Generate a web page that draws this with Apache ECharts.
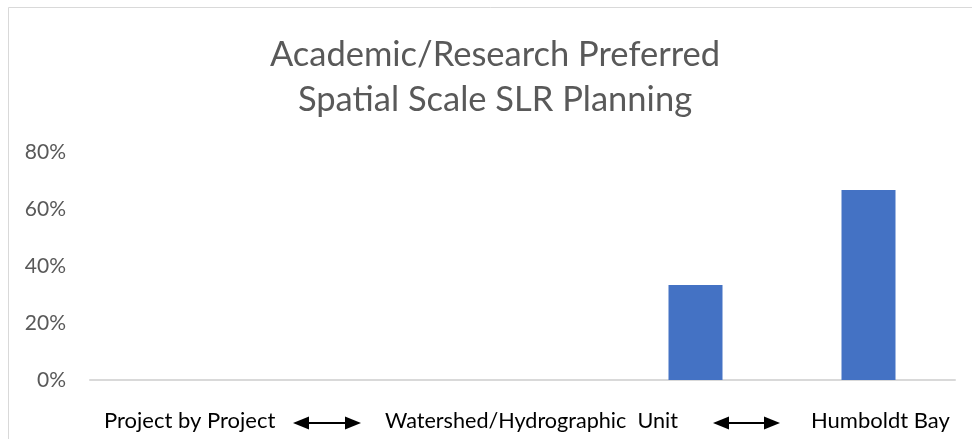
<!DOCTYPE html>
<html>
<head>
<meta charset="utf-8">
<script src="https://cdn.jsdelivr.net/npm/echarts@6/dist/echarts.min.js"></script>
<style>html,body{margin:0;padding:0;background:#fff}#c{width:972px;height:439px}</style>
</head>
<body>
<div id="c"></div>
<script>
const titleLines = ['Academic/Research Preferred', 'Spatial Scale SLR Planning'];
const categories = ['1', '2', '3', '4', '5'];
const values = [0, 0, 0, 33.3, 66.7];
const yTicks = [0, 20, 40, 60, 80];
const scaleLabels = ['Project by Project', 'Watershed/Hydrographic  Unit', 'Humboldt Bay'];

const FONT = 'Lato, "Open Sans", sans-serif';
const chart = echarts.init(document.getElementById('c'), null, {renderer: 'canvas'});

function arrow(x1, x2, y) {
  const hw = 16, hh = 6.5;
  return [
    {type: 'line', shape: {x1: x1 + hw - 2, y1: y, x2: x2 - hw + 2, y2: y}, style: {stroke: '#000', lineWidth: 2}},
    {type: 'polygon', shape: {points: [[x1, y], [x1 + hw, y - hh], [x1 + hw, y + hh]]}, style: {fill: '#000'}},
    {type: 'polygon', shape: {points: [[x2, y], [x2 - hw, y - hh], [x2 - hw, y + hh]]}, style: {fill: '#000'}}
  ];
}

const labelPos = [104, 385, 811];
const labelSize = [22, 21.6, 22];
const graphics = [
  {type: 'rect', shape: {x: 8.5, y: 7.5, width: 1000, height: 500}, style: {fill: 'none', stroke: '#d9d9d9', lineWidth: 1}, silent: true, z: -1}
];
scaleLabels.forEach((t, i) => {
  graphics.push({type: 'text', left: labelPos[i], top: 410, style: {text: t, fontFamily: FONT, fontSize: labelSize[i], fill: '#000'}});
});
graphics.push(...arrow(293, 361, 423), ...arrow(713, 780, 423));

chart.setOption({
  animation: false,
  backgroundColor: '#fff',
  title: {
    text: titleLines.join('\n'),
    left: 490,
    textAlign: 'center',
    top: 27,
    textStyle: {fontFamily: FONT, fontSize: 34.5, fontWeight: 'normal', color: '#595959', lineHeight: 45}
  },
  grid: {left: 90, right: 17, top: 152, bottom: 59, containLabel: false},
  xAxis: {
    type: 'category',
    data: categories,
    axisLine: {show: true, lineStyle: {color: '#d9d9d9', width: 2}},
    axisTick: {show: false},
    axisLabel: {show: false},
    splitLine: {show: false}
  },
  yAxis: {
    type: 'value',
    min: yTicks[0],
    max: yTicks[yTicks.length - 1],
    interval: 20,
    axisLine: {show: false},
    axisTick: {show: false},
    splitLine: {show: false},
    axisLabel: {formatter: '{value}%', fontFamily: FONT, fontSize: 21, color: '#595959', margin: 24}
  },
  series: [{
    type: 'bar',
    data: values,
    barWidth: 54,
    itemStyle: {color: '#4472c4'}
  }],
  graphic: graphics
});
</script>
</body>
</html>
